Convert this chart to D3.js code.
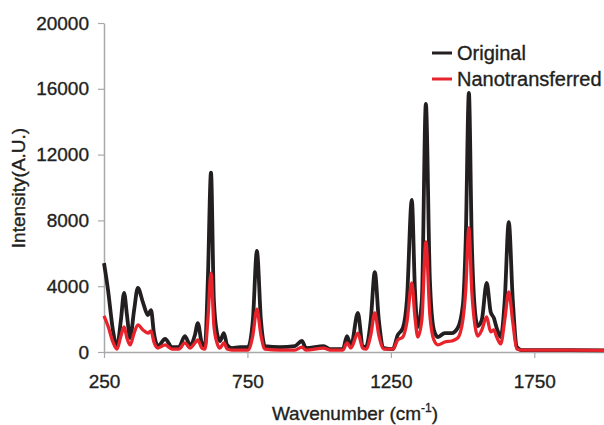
<!DOCTYPE html>
<html>
<head>
<meta charset="utf-8">
<script src="https://cdn.jsdelivr.net/npm/d3@7"></script>
<style>
  body { margin: 0; background: #fff; }
  text { font-family: "Liberation Sans", Arial, sans-serif; fill: #231f20; stroke: #231f20; stroke-width: 0.35px; }
</style>
</head>
<body>
<div id="chart"></div>
<script>
// Raman spectra
var wavenumber = [250, 264, 281, 295, 309, 320, 330, 341, 355, 368, 386, 403, 414, 424, 438, 463, 487, 511,
  532, 550, 567, 577, 591, 602, 612, 623, 633, 644, 654, 668, 679, 696, 724, 752, 769, 783, 797, 811,
  863, 915, 940, 954, 1016, 1037, 1083, 1097, 1111, 1135, 1152, 1163, 1180, 1194, 1208, 1226, 1257,
  1274, 1292, 1306, 1323, 1334, 1344, 1358, 1372, 1386, 1400, 1414, 1438, 1462, 1483, 1501, 1511,
  1522, 1532, 1543, 1553, 1567, 1584, 1598, 1609, 1619, 1633, 1647, 1661, 1675, 1689, 1706, 1839, 2000];

var original = [5400, 3770, 1340, 300, 1950, 3600, 2250, 850, 2550, 3900, 3000, 2250, 2550, 1150, 360, 790, 300, 300,
  970, 430, 1030, 1760, 550, 360, 4380, 10900, 3160, 1150, 670, 1150, 430, 240, 300, 300, 1950, 6140, 1950, 360,
  300, 360, 670, 240, 360, 180, 180, 970, 360, 2370, 360, 300, 1950, 4860, 1950, 240, 180,
  1030, 1460, 3160, 9240, 3770, 1520, 3160, 15080, 4380, 1340, 910, 1150, 1150, 1460, 2860, 6810,
  15750, 6810, 2550, 1580, 1950, 4200, 2430, 2070, 1460, 910, 3160, 7900, 3160, 300, 120, 120, 100];

var nanotransferred = [2200, 1580, 610, 180, 970, 1520, 850, 430, 1150, 1650, 1340, 1150, 1280, 610, 240, 430, 180, 180,
  550, 240, 550, 730, 240, 180, 1950, 4800, 1640, 550, 240, 550, 180, 120, 120, 120, 1030, 2610, 1030, 180,
  120, 120, 300, 120, 240, 120, 120, 550, 240, 1150, 240, 180, 1030, 2370, 1030, 180, 180,
  730, 910, 1820, 4200, 2130, 910, 1950, 6690, 2250, 730, 430, 610, 670, 850, 1950, 3770,
  7540, 3770, 1640, 970, 1340, 2130, 1220, 1340, 910, 490, 1950, 3650, 1820, 180, 120, 120, 100];

var xTicks = [250, 750, 1250, 1750];
var yTicks = [0, 4000, 8000, 12000, 16000, 20000];
var seriesNames = ["Original", "Nanotransferred"];
var seriesColors = ["#231f20", "#e8232b"];

var margin = { top: 23, left: 104, bottom: 73, right: -2 };
var W = 604, H = 425;

var svg = d3.select("#chart").append("svg")
    .attr("width", W)
    .attr("height", H);

var x = d3.scaleLinear()
    .domain([250, 2000])
    .range([margin.left, W - margin.right]);

var y = d3.scaleLinear()
    .domain([0, 20000])
    .range([H - margin.bottom, margin.top]);

// axes
var xAxis = svg.append("g")
    .attr("transform", "translate(0," + (H - margin.bottom) + ")")
    .call(d3.axisBottom(x).tickValues(xTicks).tickFormat(d3.format("d"))
      .tickSize(6).tickSizeOuter(0).tickPadding(17));

var yAxis = svg.append("g")
    .attr("transform", "translate(" + margin.left + ",0)")
    .call(d3.axisLeft(y).tickValues(yTicks).tickFormat(d3.format("d"))
      .tickSize(6).tickSizeOuter(0).tickPadding(9));

[xAxis, yAxis].forEach(function(g) {
  g.select(".domain").attr("stroke", "#a7a9ac").attr("stroke-width", 1.5);
  g.selectAll(".tick line").attr("stroke", "#a7a9ac").attr("stroke-width", 1.2);
  g.selectAll(".tick text")
      .style("font-family", "'Liberation Sans', Arial, sans-serif")
      .style("font-size", "19px")
      .attr("fill", "#231f20");
});

// spectra
var rows = wavenumber.map(function(w, i) {
  return { w: w, a: original[i], b: nanotransferred[i] };
});

var line = function(key) {
  return d3.line()
      .x(function(d) { return x(d.w); })
      .y(function(d) { return y(d[key]); })
      .curve(d3.curveMonotoneX);
};

svg.append("path")
    .datum(rows)
    .attr("fill", "none")
    .attr("stroke", seriesColors[0])
    .attr("stroke-width", 3.8)
    .attr("stroke-linejoin", "round")
    .attr("d", line("a"));

svg.append("path")
    .datum(rows)
    .attr("fill", "none")
    .attr("stroke", seriesColors[1])
    .attr("stroke-width", 3.3)
    .attr("stroke-linejoin", "round")
    .attr("d", line("b"));

// axis titles
svg.append("text")
    .attr("transform", "translate(25,188) rotate(-90)")
    .attr("text-anchor", "middle")
    .style("font-size", "19px")
    .text("Intensity(A.U.)");

var xt = svg.append("text")
    .attr("x", 355)
    .attr("y", 420)
    .attr("text-anchor", "middle")
    .style("font-size", "19px");
xt.append("tspan").text("Wavenumber (cm");
xt.append("tspan").attr("dy", -8).style("font-size", "12px").text("-1");
xt.append("tspan").attr("dy", 8).text(")");

// legend
var legend = svg.append("g").attr("transform", "translate(432,53)");
seriesNames.forEach(function(name, i) {
  var row = legend.append("g").attr("transform", "translate(0," + (i * 26) + ")");
  row.append("line")
      .attr("x1", 0).attr("x2", 20)
      .attr("stroke", seriesColors[i])
      .attr("stroke-width", 3);
  row.append("text")
      .attr("x", 25)
      .attr("dy", "0.36em")
      .style("font-size", "20px")
      .text(name);
});
</script>
</body>
</html>
